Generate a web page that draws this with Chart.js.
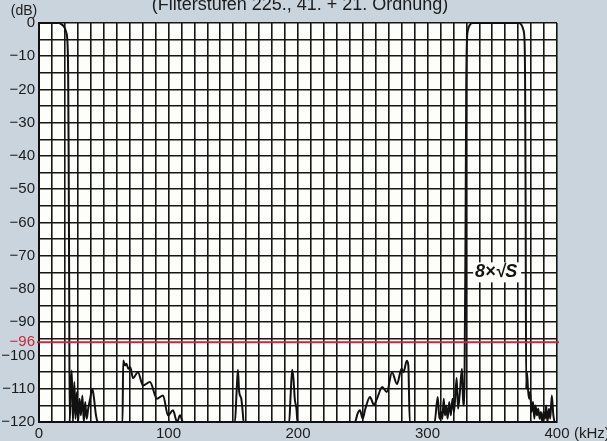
<!DOCTYPE html>
<html>
<head>
<meta charset="utf-8">
<script src="https://cdn.jsdelivr.net/npm/chart.js@4"></script>
<style>
html,body{margin:0;padding:0;background:#c9d4dd;}
canvas{display:block;}
</style>
</head>
<body>
<canvas id="c" width="607" height="441"></canvas>
<script>
// ---- data ----
const titleText = "(Filterstufen 225., 41. + 21. Ordnung)";
const xTickLabels = [0, 100, 200, 300, 400];
const yTickLabels = [0, -10, -20, -30, -40, -50, -60, -70, -80, -90, -100, -110, -120];
const limitDB = -96;
const freqKHz = [
  0, 15, 17.5, 19.5, 21, 22, 22.5, 22.9, 23.3, 23.7,
  24.3, 25.3, 26.2, 27.3, 28.2, 29.2, 30.2, 31.3, 32.3, 33.5, 34.6, 35.7, 36.8, 38, 39.5, 41.2, 42.5, 44, 45.5,
  64.5, 65, 66.5, 67.5, 69, 70.5, 72.6, 76.4, 80.3, 85.7, 91.1, 95.8, 99.6, 103.5, 106.6, 108.9, 111.2,
  151.3, 152.7, 153.6, 154.6, 156.2, 157.3, 158,
  193.2, 194.3, 195.5, 196.5, 197.5, 198.8, 199.6,
  244, 246, 247.8, 250, 252, 255.6, 258.6, 261, 265, 268.6, 272.6, 276.4, 280, 281.5, 284, 285.2, 286.3,
  305.5, 307.9, 309.2, 310.5, 311.5, 312.5, 313.5, 314.5, 315.5, 316.8, 318, 319.3, 320.5, 322.5, 323.6, 325, 326.6, 327.6, 328.6,
  329.4, 329.9, 330.4, 331.3, 332.8, 335,
  370.5, 372.5, 374, 375, 375.4, 375.8, 376.2,
  376.8, 377.6, 378.4, 379.3, 380.3, 381.5, 382.5, 383.4, 384.5, 385.5, 386.6, 387.6, 388.6, 389.6, 390.8, 391.6, 392.6, 393.8, 394.8, 396, 397.2, 398.4, 400
];
const levelDB = [
  0, 0, -0.4, -1.2, -2.8, -6, -15, -40, -80, -120,
  -112, -104.5, -120, -108, -119, -111, -120, -113, -118, -112, -120, -114, -119, -116, -113, -110, -113, -118, -120,
  -120, -101.5, -103, -102.5, -104, -103.5, -106.8, -105, -109, -108, -113, -112, -118, -116.5, -120, -118, -120,
  -120, -110, -104.3, -111, -113, -117, -120,
  -120, -112, -104.3, -107, -113, -116, -120,
  -120, -117.5, -116.5, -119, -116, -112.5, -114.8, -113, -109.5, -111, -105, -108.6, -104, -105, -101.6, -103, -120,
  -120, -112.5, -119, -117, -119, -113, -118, -115, -119, -114, -118, -113, -117, -106.8, -116, -111, -104, -115, -108,
  -60, -20, -6, -2, -0.5, 0,
  0, -0.5, -2, -6, -20, -60, -110,
  -105, -110, -113, -111, -117, -114, -119, -115, -118, -116, -119, -117, -120, -117, -119, -115, -120, -116, -119, -112, -118, -120, -120
];

const points = freqKHz.map((f, i) => ({x: f, y: levelDB[i]}));
const FONT = "'Liberation Sans', Arial, Helvetica, sans-serif";
const TXT = '#1c1c1c';
const minus = v => v < 0 ? '\u2212' + (-v) : String(v);

const decor = {
  id: 'decor',
  beforeDraw(chart) {
    const {ctx, chartArea: a} = chart;
    ctx.save();
    ctx.fillStyle = '#c9d4dd';
    ctx.fillRect(0, 0, chart.width, chart.height);
    ctx.fillStyle = '#fdfdf9';
    ctx.fillRect(a.left, a.top, a.right - a.left, a.bottom - a.top);
    ctx.restore();
  },
  afterDraw(chart) {
    const {ctx, chartArea: a, scales} = chart;
    const y96 = scales.y.getPixelForValue(limitDB);
    ctx.save();
    // red limit line
    ctx.strokeStyle = '#c4283c';
    ctx.lineWidth = 2;
    ctx.beginPath();
    ctx.moveTo(37, y96);
    ctx.lineTo(a.right + 2, y96);
    ctx.stroke();
    ctx.fillStyle = '#c4283c';
    ctx.font = '15px ' + FONT;
    ctx.textAlign = 'right';
    ctx.textBaseline = 'middle';
    ctx.fillText(minus(limitDB), 35, y96);
    // title (cut at top)
    ctx.fillStyle = TXT;
    ctx.font = '18px ' + FONT;
    ctx.textAlign = 'center';
    ctx.textBaseline = 'alphabetic';
    ctx.fillText(titleText, 300, 10);
    // units
    ctx.font = '14px ' + FONT;
    ctx.textBaseline = 'middle';
    ctx.textAlign = 'center';
    ctx.fillText('(dB)', 24, 11);
    ctx.font = '15px ' + FONT;
    ctx.textAlign = 'left';
    ctx.fillText('(kHz)', 574, 434);
    // annotation 8×√S
    const ax = scales.x.getPixelForValue(353), ay = scales.y.getPixelForValue(-75);
    ctx.fillStyle = '#fdfdf9';
    ctx.fillRect(ax - 23, ay - 10, 48, 20);
    ctx.fillStyle = '#111';
    ctx.textAlign = 'center';
    ctx.font = 'italic bold 18px ' + FONT;
    ctx.fillText('8\u00D7\u221AS', ax, ay);
    ctx.restore();
  }
};

new Chart(document.getElementById('c'), {
  type: 'line',
  data: {
    datasets: [{
      data: points,
      borderColor: '#111',
      borderWidth: 2,
      pointRadius: 0,
      fill: false,
      cubicInterpolationMode: 'monotone',
      clip: 3
    }]
  },
  options: {
    responsive: false,
    animation: false,
    devicePixelRatio: 1,
    layout: {padding: {top: 23, right: 50, left: 0, bottom: 0}},
    plugins: {legend: {display: false}, tooltip: {enabled: false}, title: {display: false}},
    scales: {
      x: {
        type: 'linear', min: 0, max: 400,
        afterFit: s => { s.height = 19; },
        afterBuildTicks: s => { const t = []; for (let v = 0; v <= 400; v += 10) t.push({value: v}); s.ticks = t; },
        ticks: {
          autoSkip: false, maxRotation: 0, padding: 3,
          color: TXT, font: {family: FONT, size: 15},
          callback: v => xTickLabels.includes(v) ? String(v) : ''
        },
        grid: {color: '#151515', lineWidth: 1.6, drawTicks: false},
        border: {color: '#111', width: 2}
      },
      y: {
        min: -120, max: 0,
        afterFit: s => { s.width = 39; },
        afterBuildTicks: s => { const t = []; for (let v = -120; v <= 0; v += 5) t.push({value: v}); s.ticks = t; },
        ticks: {
          autoSkip: false, padding: 4,
          color: TXT, font: {family: FONT, size: 15},
          callback: v => yTickLabels.includes(v) ? minus(v) : ''
        },
        grid: {color: '#151515', lineWidth: 1.6, drawTicks: false},
        border: {color: '#111', width: 2}
      }
    }
  },
  plugins: [decor]
});
</script>
</body>
</html>
